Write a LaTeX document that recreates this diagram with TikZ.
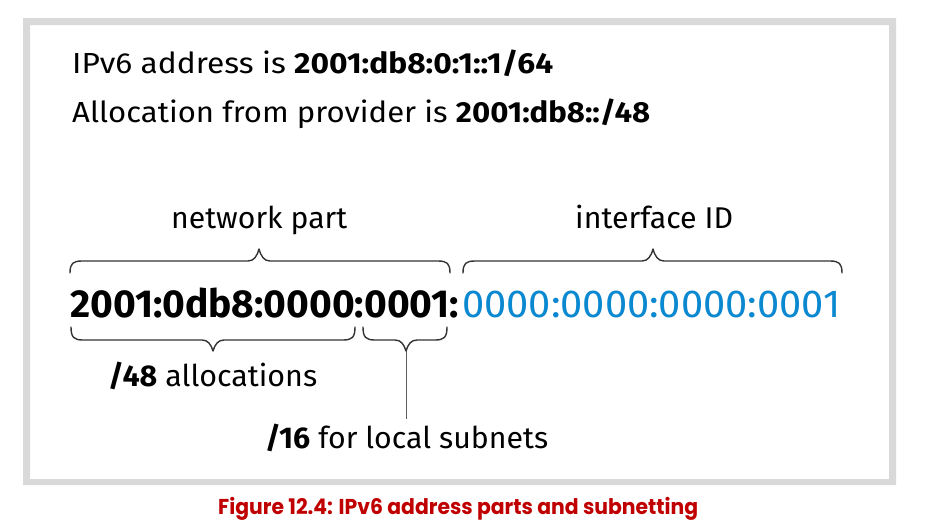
\documentclass[tikz,border=0pt]{standalone}
\usepackage{fontspec}
\usepackage{graphicx}
\setmainfont{Fira Sans}
\newfontfamily\capfont{Poppins}
\definecolor{framegray}{HTML}{D9D9D9}
\definecolor{ipblue}{HTML}{0A88D0}
\definecolor{capred}{HTML}{C00000}
\definecolor{bracegray}{HTML}{333333}
\newcommand\fitw[2]{\resizebox{#1}{\height}{#2}}
% brace opening downward (tip up): x1, xtip, x2, yend, ybar, ytip
\newcommand\bracepath[6]{%
  (#1,#4) .. controls (#1,{#5+(#4-#5)*0.2}) and ({#1+3},#5) .. ({#1+12},#5)
  -- ({#2-11},#5) .. controls ({#2-5},#5) and ({#2-2},{#5+(#6-#5)*0.4}) .. (#2,#6)
  .. controls ({#2+2},{#5+(#6-#5)*0.4}) and ({#2+5},#5) .. ({#2+11},#5)
  -- ({#3-12},#5) .. controls ({#3-3},#5) and (#3,{#5+(#4-#5)*0.2}) .. (#3,#4)}
\tikzset{
  x=1pt, y=-1pt,
  txt/.style={anchor=base west, inner sep=0pt, text=black},
  bracestyle/.style={draw=bracegray, line width=1.4pt, line cap=round, line join=round},
  leader/.style={draw=bracegray!80, line width=0.9pt},
}
\begin{document}
\begin{tikzpicture}
\useasboundingbox (0,0) rectangle (931,530);
\fill[white] (0,0) rectangle (931,530);
% frame
\fill[framegray, even odd rule] (23,18) rectangle (896,485) (30,25) rectangle (889,479);
% header lines
\node[txt, font=\fontsize{29}{34}\selectfont] (l1) at (72,73)
  {\fitw{481pt}{IPv6 address is \textbf{2001:db8:0:1::1/64}}};
\node[txt, font=\fontsize{29}{34}\selectfont] (l2) at (72,122)
  {\fitw{578pt}{Allocation from provider is \textbf{2001:db8::/48}}};
% labels above
\node[txt, font=\fontsize{30}{34}\selectfont] (np) at (171,228) {\fitw{176pt}{network part}};
\node[txt, font=\fontsize{30}{34}\selectfont] (iid) at (575,228) {\fitw{158pt}{interface ID}};
% address
\node[txt, font=\fontsize{39}{44}\selectfont] (addrnet) at (70,317)
  {\fitw{389pt}{\textbf{2001:0db8:0000:0001:}}};
\node[txt, font=\fontsize{39}{44}\selectfont, text=ipblue] (addrif) at (462,317)
  {\fitw{378pt}{0000:0000:0000:0001}};
% braces
\draw[bracestyle] \bracepath{70}{259}{450}{273}{261}{249};
\draw[bracestyle] \bracepath{463}{653}{842}{273}{261}{249};
\draw[bracestyle] \bracepath{71}{213}{355}{327}{340}{351};
\draw[bracestyle] \bracepath{363}{406}{447}{327}{340}{351};
\coordinate (t16) at (406,351);
% labels below
\node[txt, font=\fontsize{30}{34}\selectfont] (a48) at (108,386)
  {\fitw{209pt}{\textbf{/48} allocations}};
\node[txt, font=\fontsize{30}{34}\selectfont] (s16) at (265,448)
  {\fitw{283pt}{\textbf{/16} for local subnets}};
\draw[leader] (t16) -- ([yshift=4pt]t16 |- s16.north);
% caption
\node[txt, font=\capfont\bfseries\fontsize{21.5}{26}\selectfont, text=capred] (cap) at (218,514)
  {\fitw{480pt}{Figure 12.4: IPv6 address parts and subnetting}};
\end{tikzpicture}
\end{document}
